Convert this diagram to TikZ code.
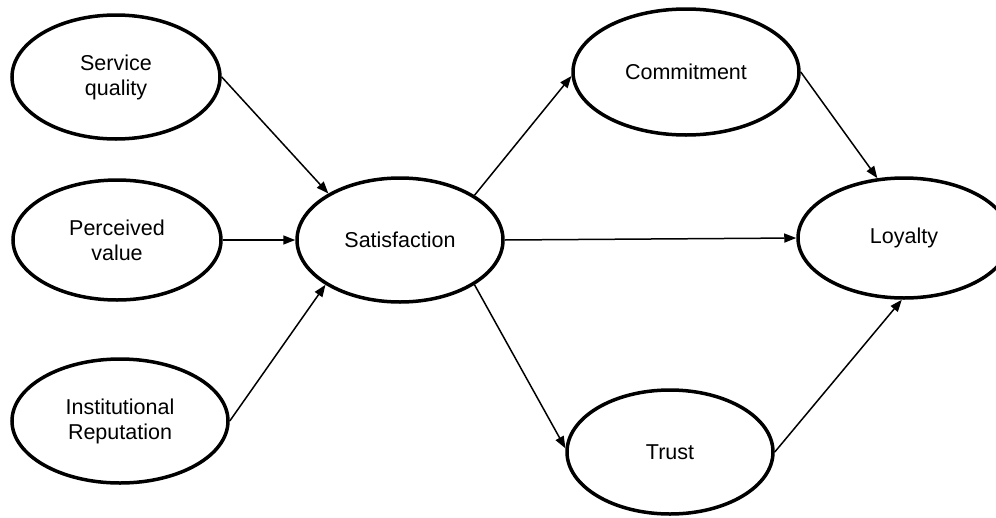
\documentclass[tikz,border=0pt]{standalone}
\usepackage{fontspec}
\setmainfont{Liberation Sans}
\usetikzlibrary{shapes.geometric,arrows.meta}
\begin{document}
\begin{tikzpicture}[x=1pt,y=-1pt,
  construct/.style={ellipse,draw=black,line width=3.5pt,inner sep=0pt,
    align=center,font=\fontsize{21.5}{25}\selectfont},
  link/.style={line width=1.5pt,-{Triangle[length=12pt,width=9pt]}}]
\useasboundingbox (0,0) rectangle (996,517);

% constructs
\node[construct,minimum width=208pt,minimum height=124pt] (sq)  at (116,77)  {Service\\quality};
\node[construct,minimum width=208pt,minimum height=120pt] (pv)  at (117,240) {Perceived\\value};
\node[construct,minimum width=216pt,minimum height=124pt] (ir)  at (120,421) {Institutional\\Reputation};
\node[construct,minimum width=206pt,minimum height=124pt] (sat) at (400,240) {Satisfaction};
\node[construct,minimum width=226pt,minimum height=126pt] (com) at (686,72)  {Commitment};
\node[construct,minimum width=212pt,minimum height=120pt] (loy) at (904,238) {Loyalty};
\node[construct,minimum width=206pt,minimum height=124pt] (tru) at (670,452) {Trust};

% paths
\draw[link] (sq.east)  -- (sat.147);
\draw[link] (pv.east)  -- (sat.west);
\draw[link] (ir.east)  -- (sat.211);
\draw[link] (sat.31)   -- (com.182);
\draw[link] (sat.east) -- (loy.west);
\draw[link] (sat.329)  -- (tru.178);
\draw[link] (com.east) -- (loy.114);
\draw[link] (tru.east) -- (loy.268);
\end{tikzpicture}
\end{document}
